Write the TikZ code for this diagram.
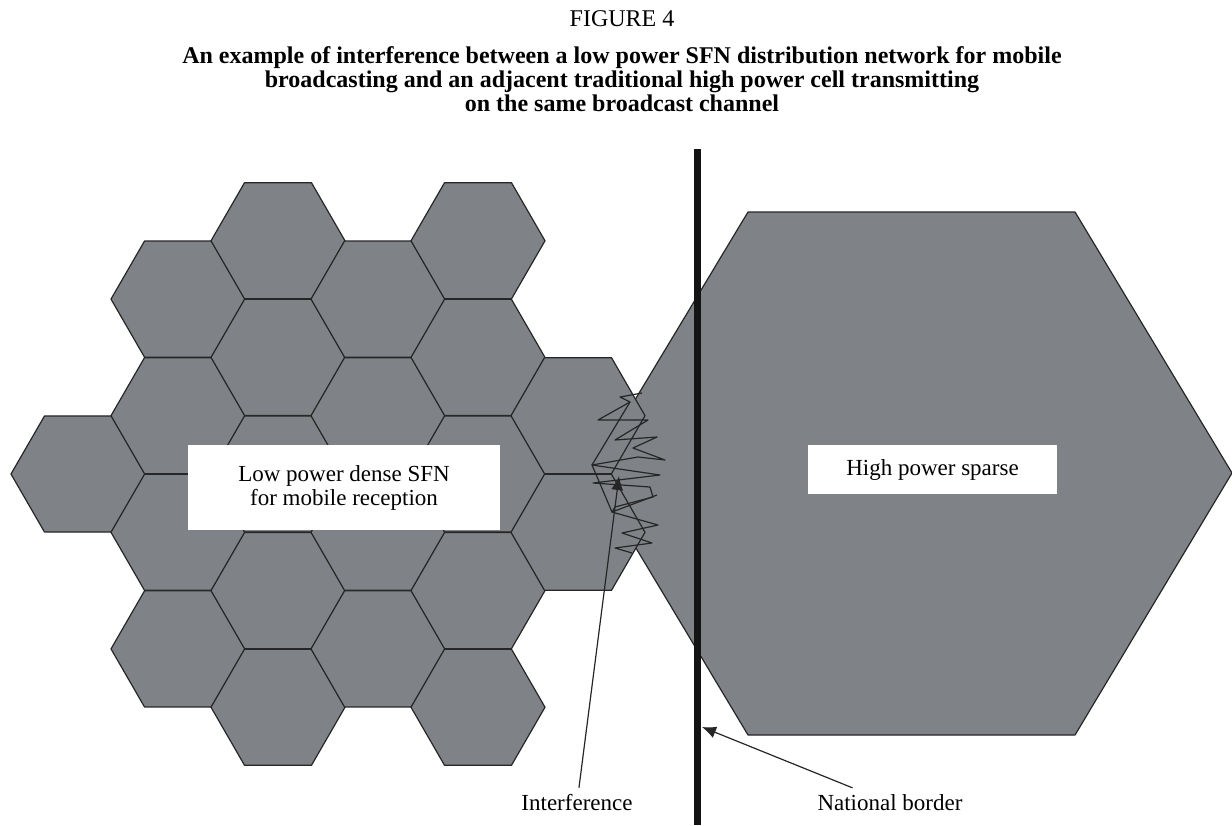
\documentclass[tikz,border=0pt]{standalone}
\usepackage{fontspec}
\setmainfont{Liberation Serif}
\usepackage{xcolor}
\usepackage{tikz}
\usetikzlibrary{arrows.meta}
\definecolor{cellgray}{RGB}{127,131,135}
\definecolor{celledge}{RGB}{38,38,38}

\begin{document}
\begin{tikzpicture}%
        [x={(0.5pt,0pt)},
        y={(0pt,-0.5pt)},
        cell/.style={fill=cellgray, draw=celledge, line width=0.6pt, line join=round},
        border/.style={draw=black!92, line width=3.5pt},
        whitebox/.style={fill=white, inner sep=0pt, align=center, font=\fontsize{11.5}{12}\selectfont},
        lbl/.style={font=\fontsize{11.5}{12}\selectfont},
        pointer/.style={draw=black!85, line width=0.6pt, -{Latex[length=7pt,width=6pt]}},
        squiggle/.style={draw=black!85, line width=0.6pt, line join=round}]
    \useasboundingbox (0,0) rectangle (1232,825);
    %% Caption
    \node (fignum) at (622,19) {\fontsize{12}{12.5}\selectfont FIGURE 4};
    \node[align=center, font=\fontsize{12}{12}\selectfont\bfseries] (caption) at (622,79)
        {An example of interference between a low power SFN distribution network for mobile\\
         broadcasting and an adjacent traditional high power cell transmitting\\
         on the same broadcast channel};
    %%
    %% The high power cell
    %%
    \draw[cell] (748,212) -- (1075,212) -- (1232,473) -- (1075,735) -- (748,735) -- (591,473) -- cycle;
    %%
    %% The dense SFN cells (column / row offset)
    %%
    \foreach \c/\k in {0/0, 1/-3, 1/-1, 1/1, 1/3, 2/-4, 2/-2, 2/0, 2/2, 2/4,
                       3/-3, 3/-1, 3/1, 3/3, 4/-4, 4/-2, 4/0, 4/2, 4/4, 5/-1, 5/1}
        \draw[cell] ({78+100*\c},{474+58.3*\k}) +(0:67) -- +(60:67) -- +(120:67)
            -- +(180:67) -- +(240:67) -- +(300:67) -- cycle;
    %%
    %% Interference at the edge
    \draw[squiggle] (642,393) -- (620,397) -- (630,402) -- (598,420) -- (648,420) -- (615,440)
        -- (657,437) -- (633,448) -- (665,460) -- (638,457) -- (592,465) -- (660,475)
        -- (593,483) -- (650,487) -- (653,497) -- (615,507) -- (612,512) -- (658,525)
        -- (622,533) -- (652,543) -- (615,548) -- (632,553);
    \draw[squiggle] (630,402) -- (592,465) -- (612,512) -- (657,495);
    %%
    %% National border
    \coordinate (bordertop) at (697,149);
    \coordinate (borderfoot) at (697,825);
    \draw[border] (bordertop) -- (borderfoot);
    %%
    %% Labels
    \node[whitebox, minimum width=156pt, minimum height=42.5pt] (sfnbox) at (344,487.5)
        {Low power dense SFN\\for mobile reception};
    \node[whitebox, minimum width=124.5pt, minimum height=24.5pt] (hpbox) at (932.5,469.5)
        {High power sparse};
    \node[lbl] (intflabel) at (577,803) {Interference};
    \node[lbl] (borderlabel) at (890,803) {National border};
    \coordinate (hitpoint) at (619,476);
    \coordinate (borderpoint) at (702,727);
    \draw[pointer] (intflabel) -- (hitpoint);
    \draw[pointer] (borderlabel) -- (borderpoint);
\end{tikzpicture}
\end{document}
